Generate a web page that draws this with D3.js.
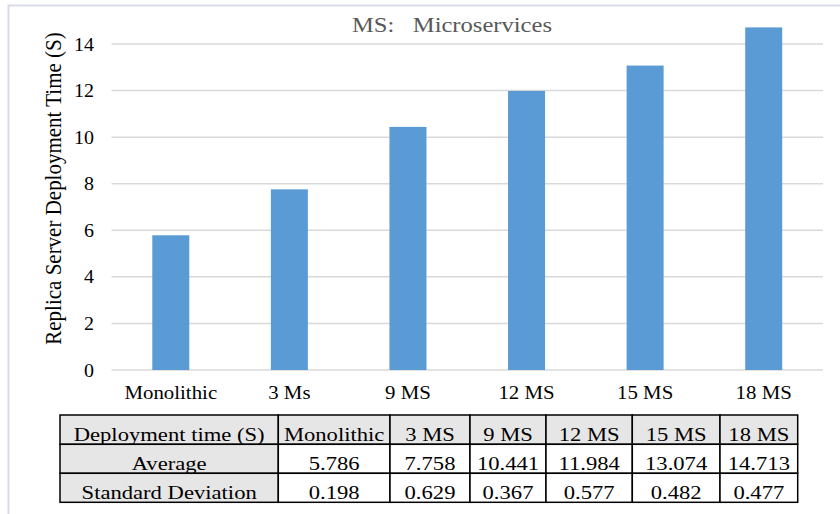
<!DOCTYPE html>
<html>
<head>
<meta charset="utf-8">
<script src="https://cdn.jsdelivr.net/npm/d3@7"></script>
<style>
  html, body { margin: 0; padding: 0; background: #ffffff; }
  svg { display: block; }
  text { font-family: "Liberation Serif", "Times New Roman", serif; }
</style>
</head>
<body>
<svg id="chart" width="840" height="514"></svg>
<script>
// Replica server deployment time, monolithic vs. microservice counts
const categories = ["Monolithic", "3 Ms", "9 MS", "12 MS", "15 MS", "18 MS"];
const tableHeaders = ["Monolithic", "3 MS", "9 MS", "12 MS", "15 MS", "18 MS"];
const averages = [5.786, 7.758, 10.441, 11.984, 13.074, 14.713];
const stdDevs = [0.198, 0.629, 0.367, 0.577, 0.482, 0.477];
const yTicks = [0, 2, 4, 6, 8, 10, 12, 14];
const chartTitle = "MS:\u00a0\u00a0\u00a0Microservices";
const yTitle = "Replica Server Deployment Time (S)";
const tableCorner = "Deployment time (S)";
const rowLabels = ["Average", "Standard Deviation"];

const svg = d3.select("#chart");

// outer frame
svg.append("rect")
  .attr("x", 8.5).attr("y", 5.5)
  .attr("width", 900).attr("height", 600)
  .attr("fill", "#ffffff")
  .attr("stroke", "#d9dbe8").attr("stroke-width", 2);

const plot = { left: 111.5, right: 823, top: 44, bottom: 370 };

const x = d3.scaleBand()
  .domain(categories)
  .range([plot.left, plot.right])
  .paddingInner(0.688)
  .paddingOuter(0.344);

const y = d3.scaleLinear()
  .domain([0, 14])
  .range([plot.bottom, plot.top]);

// horizontal gridlines
svg.append("g")
  .selectAll("line")
  .data(yTicks)
  .join("line")
  .attr("x1", plot.left).attr("x2", plot.right)
  .attr("y1", d => y(d)).attr("y2", d => y(d))
  .attr("stroke", "#d9d9d9").attr("stroke-width", 1.5);

// y tick labels
svg.append("g")
  .selectAll("text")
  .data(yTicks)
  .join("text")
  .attr("transform", d => `translate(94,${y(d) + 6.5}) scale(1.08,1)`)
  .attr("text-anchor", "end")
  .attr("font-size", 18.5)
  .attr("fill", "#000000")
  .text(d => d);

// bars
svg.append("g")
  .selectAll("rect")
  .data(averages)
  .join("rect")
  .attr("x", (d, i) => x(categories[i]))
  .attr("y", d => y(d))
  .attr("width", x.bandwidth())
  .attr("height", d => y(0) - y(d))
  .attr("fill", "#5b9bd5");

// x category labels
svg.append("g")
  .selectAll("text")
  .data(categories)
  .join("text")
  .attr("transform", d => `translate(${x(d) + x.bandwidth() / 2},398.5) scale(1.07,1)`)
  .attr("text-anchor", "middle")
  .attr("font-size", 19.5)
  .attr("fill", "#000000")
  .text(d => d);

// title
svg.append("text")
  .attr("transform", "translate(452,32) scale(1.2,1)")
  .attr("text-anchor", "middle")
  .attr("font-size", 20.5)
  .attr("fill", "#595959")
  .text(chartTitle);

// y axis title
svg.append("text")
  .attr("transform", "translate(61,188.5) scale(1.13,1) rotate(-90)")
  .attr("text-anchor", "middle")
  .attr("font-size", 21)
  .attr("fill", "#000000")
  .text(yTitle);

// data table below the chart
const colEdges = [60, 278.3, 390, 470, 546, 632.3, 720, 797.7];
const rowEdges = [415, 444.3, 473.3, 502.3];

const rows = [
  [tableCorner, ...tableHeaders],
  [rowLabels[0], ...averages.map(v => v.toFixed(3))],
  [rowLabels[1], ...stdDevs.map(v => v.toFixed(3))]
];

const cells = [];
rows.forEach((row, r) => {
  row.forEach((val, c) => {
    cells.push({ r, c, val });
  });
});

const table = svg.append("g");

table.selectAll("rect")
  .data(cells)
  .join("rect")
  .attr("x", d => colEdges[d.c])
  .attr("y", d => rowEdges[d.r])
  .attr("width", d => colEdges[d.c + 1] - colEdges[d.c])
  .attr("height", d => rowEdges[d.r + 1] - rowEdges[d.r])
  .attr("fill", d => (d.r === 0 || d.c === 0) ? "#e7e6e6" : "#ffffff")
  .attr("stroke", "#000000")
  .attr("stroke-width", 1.5);

table.selectAll("text")
  .data(cells)
  .join("text")
  .attr("transform", d => `translate(${(colEdges[d.c] + colEdges[d.c + 1]) / 2},${rowEdges[d.r + 1] - 3.2}) scale(1.16,1)`)
  .attr("text-anchor", "middle")
  .attr("font-size", 19.5)
  .attr("fill", "#000000")
  .text(d => d.val);
</script>
</body>
</html>
